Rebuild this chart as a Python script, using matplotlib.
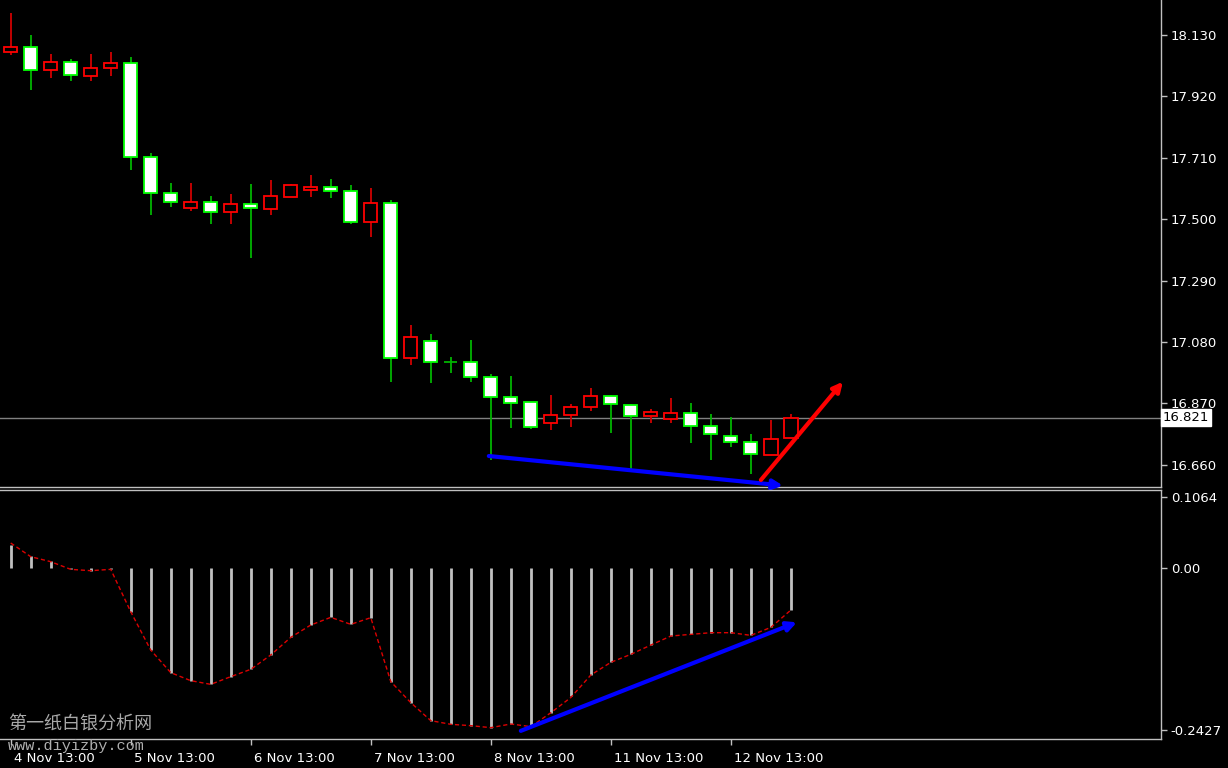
import matplotlib.pyplot as plt
import numpy as np
from matplotlib.patches import Rectangle
import matplotlib.transforms as mtransforms

# velas de 4 horas (XAG)
opens = [18.071, 18.090, 18.010, 18.039, 17.990, 18.016, 18.033, 17.714, 17.589, 17.537,
         17.559, 17.524, 17.551, 17.536, 17.577, 17.600, 17.611, 17.598, 17.489, 17.555,
         17.024, 17.084, 17.012, 17.012, 16.960, 16.892, 16.875, 16.802, 16.831, 16.858,
         16.895, 16.865, 16.827, 16.816, 16.836, 16.794, 16.759, 16.738, 16.695, 16.751]
highs = [18.206, 18.130, 18.065, 18.048, 18.065, 18.073, 18.056, 17.727, 17.625, 17.625,
         17.580, 17.586, 17.620, 17.634, 17.620, 17.651, 17.638, 17.617, 17.608, 17.566,
         17.138, 17.107, 17.030, 17.087, 16.970, 16.962, 16.876, 16.899, 16.868, 16.924,
         16.898, 16.867, 16.850, 16.889, 16.873, 16.834, 16.823, 16.765, 16.813, 16.833]
lows = [18.062, 17.942, 17.984, 17.973, 17.973, 17.990, 17.668, 17.514, 17.543, 17.529,
        17.484, 17.484, 17.367, 17.514, 17.575, 17.577, 17.574, 17.484, 17.440, 16.942,
        17.001, 16.939, 16.973, 16.942, 16.676, 16.787, 16.781, 16.779, 16.790, 16.844,
        16.770, 16.645, 16.804, 16.802, 16.736, 16.676, 16.720, 16.629, 16.695, 16.751]
closes = [18.090, 18.010, 18.039, 17.993, 18.016, 18.033, 17.714, 17.589, 17.558, 17.560,
          17.525, 17.551, 17.537, 17.580, 17.616, 17.611, 17.597, 17.489, 17.556, 17.024,
          17.098, 17.012, 17.012, 16.960, 16.892, 16.871, 16.789, 16.831, 16.858, 16.895,
          16.867, 16.827, 16.841, 16.836, 16.794, 16.764, 16.739, 16.696, 16.747, 16.821]

# indicador (histograma) y su linea punteada
hist = [0.0345, 0.018, 0.011, -0.002, -0.004, -0.002, -0.0655, -0.1229, -0.1568, -0.1688,
        -0.1743, -0.1628, -0.1518, -0.1303, -0.1039, -0.0854, -0.0739, -0.0844, -0.0744, -0.1703,
        -0.2018, -0.2287, -0.2342, -0.2362, -0.2392, -0.2342, -0.2352, -0.2168, -0.1913, -0.1603,
        -0.1413, -0.1293, -0.1154, -0.1019, -0.0994, -0.0969, -0.0969, -0.1009, -0.0889, -0.0629]
signal = [0.0375, 0.017, 0.0095, -0.002, -0.004, -0.002, -0.0655, -0.1229, -0.1568, -0.1688,
          -0.1743, -0.1628, -0.1518, -0.1303, -0.1039, -0.0854, -0.0739, -0.0844, -0.0744, -0.1703,
          -0.2018, -0.2287, -0.2342, -0.2362, -0.2392, -0.2337, -0.2377, -0.2168, -0.1940, -0.1603,
          -0.1413, -0.1293, -0.1154, -0.1019, -0.0994, -0.0969, -0.0969, -0.1009, -0.0889, -0.0629]

precio_ticks = [18.130, 17.920, 17.710, 17.500, 17.290, 17.080, 16.870, 16.660]
ind_ticks = [0.1064, 0.0, -0.2427]
ind_tick_labels = ['0.1064', '0.00', '-0.2427']
fecha_pos = [0, 6, 12, 18, 24, 30, 36]
fecha_labels = ['4 Nov 13:00', '5 Nov 13:00', '6 Nov 13:00', '7 Nov 13:00',
                '8 Nov 13:00', '11 Nov 13:00', '12 Nov 13:00']
precio_actual = 16.821

# flechas dibujadas a mano sobre el grafico (indice de vela, valor)
flecha_azul_precio = [(23.9, 16.690), (38.6, 16.589)]
flecha_roja_precio = [(37.5, 16.608), (41.6, 16.944)]
flecha_azul_ind = [(25.5, -0.244), (39.3, -0.0813)]

gris = '#c0c0c0'
fig = plt.figure(figsize=(12.28, 7.68), dpi=100, facecolor='black')
ax1 = fig.add_axes([0, 1 - 487.3 / 768, 1161 / 1228, 487.3 / 768], facecolor='black')
ax2 = fig.add_axes([0, 1 - 739 / 768, 1161 / 1228, 249 / 768], facecolor='black')

x = np.arange(len(opens))
ancho = 0.66
for i in x:
    o, h, l, c = opens[i], highs[i], lows[i], closes[i]
    if c > o:
        borde, mecha, relleno = '#ff0000', '#d00000', 'black'
    else:
        borde, mecha, relleno = '#00ff00', '#00b400', 'white'
    arriba, abajo = max(o, c), min(o, c)
    ax1.vlines(i, arriba, h, color=mecha, lw=1.3, zorder=2)
    ax1.vlines(i, l, abajo, color=mecha, lw=1.3, zorder=2)
    if arriba - abajo < 0.002:
        ax1.hlines(o, i - ancho / 2, i + ancho / 2, color=mecha, lw=1.3, zorder=3)
    else:
        ax1.add_patch(Rectangle((i - ancho / 2, abajo), ancho, arriba - abajo,
                                facecolor=relleno, edgecolor=borde, lw=1.3, zorder=3))

ax1.axhline(precio_actual, color='#808080', lw=1, zorder=1)

for (a, b), col in [(flecha_azul_precio, '#0000ff'), (flecha_roja_precio, '#ff0000')]:
    ax1.annotate('', xy=b, xytext=a,
                 arrowprops=dict(arrowstyle='-|>', color=col, lw=3, mutation_scale=14,
                                 shrinkA=0, shrinkB=0), zorder=5, annotation_clip=False)

xmin, xmax = -0.535, 57.5
ax1.set_xlim(xmin, xmax)
ax1.set_ylim(16.583, 18.2497)

# panel del indicador
ax2.vlines(x, 0, hist, color=gris, lw=2, zorder=2)
ax2.plot(x, signal, color='#dd0000', lw=1, ls=(0, (3, 2)), zorder=3)
a, b = flecha_azul_ind
ax2.annotate('', xy=b, xytext=a,
             arrowprops=dict(arrowstyle='-|>', color='#0000ff', lw=3, mutation_scale=14,
                             shrinkA=0, shrinkB=0), zorder=5)
ax2.set_xlim(xmin, xmax)
ax2.set_ylim(-0.2562, 0.1169)

for ax in (ax1, ax2):
    for s in ['left', 'top']:
        ax.spines[s].set_visible(False)
    for s in ['right', 'bottom', 'top']:
        ax.spines[s].set_color(gris)
        ax.spines[s].set_linewidth(1)
    ax.yaxis.tick_right()
    ax.tick_params(axis='y', colors=gris, labelcolor='white', length=4, width=1,
                   pad=3, labelsize=9.5)
ax2.spines['top'].set_visible(True)

ax1.set_xticks([])
ax1.set_yticks(precio_ticks)
ax1.set_yticklabels(['%.3f' % v for v in precio_ticks])

ax2.set_yticks(ind_ticks)
ax2.set_yticklabels(ind_tick_labels)
ax2.set_xticks(fecha_pos)
ax2.set_xticklabels(fecha_labels)
ax2.tick_params(axis='x', colors=gris, labelcolor='white', length=4, width=1,
                pad=5, labelsize=9.5)
desplaza = mtransforms.ScaledTranslation(3 / 100, 0, fig.dpi_scale_trans)
for t in ax2.get_xticklabels():
    t.set_horizontalalignment('left')
    t.set_transform(t.get_transform() + desplaza)

# recuadro con el precio actual
ax1.text(1.0015, precio_actual, '%.3f' % precio_actual,
         transform=ax1.get_yaxis_transform(), va='center', ha='left',
         fontsize=9.5, color='black', zorder=6, clip_on=False,
         bbox=dict(boxstyle='square,pad=0.15', facecolor='white', edgecolor='white'))

# marcas de agua
fig.text(8 / 1228, 1 - 725 / 768, '第一纸白银分析网', color='#a8a8a8', fontsize=13,
         family=['Noto Sans CJK SC', 'DejaVu Sans'], va='center', ha='left')
fig.text(8 / 1228, 1 - 746 / 768, 'www.diyizby.com', color='#b0b0b0', fontsize=11,
         family='Liberation Mono', va='center', ha='left')

fig.savefig('out.png', dpi=100, facecolor='black')
